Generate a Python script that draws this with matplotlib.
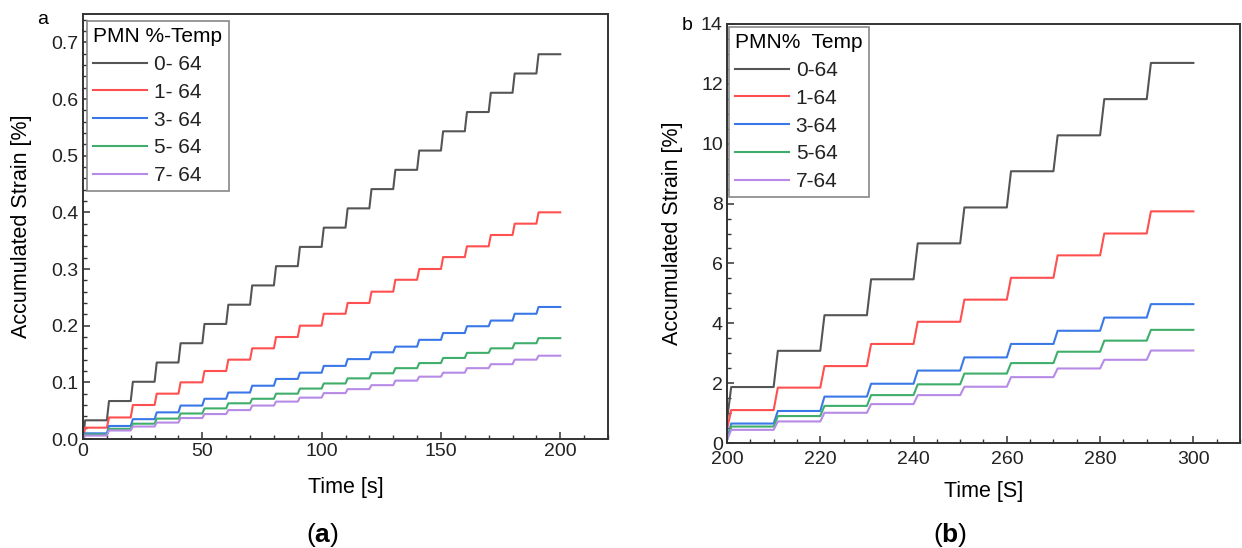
import numpy as np
import matplotlib.pyplot as plt

plt.rcParams['font.family'] = ['Liberation Sans', 'DejaVu Sans']
plt.rcParams['mathtext.fontset'] = 'custom'
plt.rcParams['mathtext.rm'] = 'Liberation Sans'
plt.rcParams['mathtext.bf'] = 'Liberation Sans:bold'

# panel a: step times [s] and the strain level reached after each step [%]
steps_a = [0, 10, 20, 30, 40, 50, 60, 70, 80, 90, 100, 110, 120, 130, 140, 150, 160, 170, 180, 190]
end_a = 200
levels_a = {
    '0- 64': [0.033, 0.067, 0.101, 0.135, 0.169, 0.203, 0.237, 0.271, 0.305, 0.339,
              0.373, 0.407, 0.441, 0.475, 0.509, 0.543, 0.577, 0.611, 0.645, 0.679],
    '1- 64': [0.020, 0.038, 0.060, 0.080, 0.100, 0.120, 0.140, 0.160, 0.180, 0.200,
              0.221, 0.240, 0.260, 0.281, 0.300, 0.321, 0.340, 0.360, 0.380, 0.400],
    '3- 64': [0.010, 0.023, 0.035, 0.047, 0.059, 0.071, 0.082, 0.094, 0.106, 0.117,
              0.129, 0.141, 0.153, 0.163, 0.175, 0.187, 0.199, 0.209, 0.221, 0.233],
    '5- 64': [0.008, 0.018, 0.027, 0.036, 0.045, 0.054, 0.063, 0.071, 0.080, 0.089,
              0.098, 0.107, 0.116, 0.125, 0.134, 0.143, 0.152, 0.160, 0.169, 0.178],
    '7- 64': [0.006, 0.015, 0.022, 0.029, 0.037, 0.044, 0.051, 0.059, 0.066, 0.073,
              0.081, 0.088, 0.095, 0.103, 0.110, 0.117, 0.125, 0.132, 0.140, 0.147],
}
start_a = [0.0, 0.0, 0.0, 0.0, 0.0]

# panel b
steps_b = [200, 210, 220, 230, 240, 250, 260, 270, 280, 290]
end_b = 300
levels_b = {
    '0-64': [1.87, 3.08, 4.27, 5.47, 6.67, 7.87, 9.08, 10.28, 11.49, 12.70],
    '1-64': [1.10, 1.85, 2.57, 3.31, 4.05, 4.79, 5.52, 6.27, 7.00, 7.74],
    '3-64': [0.65, 1.07, 1.55, 1.98, 2.42, 2.86, 3.31, 3.75, 4.19, 4.64],
    '5-64': [0.55, 0.90, 1.24, 1.60, 1.96, 2.32, 2.67, 3.05, 3.42, 3.78],
    '7-64': [0.44, 0.72, 1.01, 1.30, 1.60, 1.88, 2.20, 2.49, 2.78, 3.09],
}
start_b = [0.75, 0.45, 0.10, 0.10, 0.10]

colors = ['#555555', '#ff4f4f', '#3a78e8', '#3fae6a', '#b68ae6']


def step_curve(steps, end, levels, start, ramp):
    xs, ys = [], []
    prev = start
    for t, lv in zip(steps, levels):
        xs += [t, t + ramp]
        ys += [prev, lv]
        prev = lv
    xs.append(end)
    ys.append(prev)
    return np.array(xs), np.array(ys)


fig = plt.figure(figsize=(12.42, 5.48), dpi=100)
W, H = 1242, 548

ax1 = fig.add_axes([83 / W, 1 - 439 / H, (608 - 83) / W, (439 - 14) / H])
ax2 = fig.add_axes([727 / W, 1 - 443 / H, (1240 - 727) / W, (443 - 24) / H])


def style(ax):
    for sp in ax.spines.values():
        sp.set_color('#333333')
        sp.set_linewidth(1.4)
    ax.minorticks_on()
    ax.tick_params(which='both', direction='in', colors='#333333', labelsize=14,
                   labelcolor='#222222', top=False, right=False)
    ax.tick_params(which='major', length=5, width=1.1, pad=3)
    ax.tick_params(which='minor', length=3, width=1.0)


for i, (name, lv) in enumerate(levels_a.items()):
    x, y = step_curve(steps_a, end_a, lv, start_a[i], 0.9)
    ax1.plot(x, y, color=colors[i], lw=1.5, label=name)
ax1.set_xlim(0, 220)
ax1.set_ylim(0, 0.75)
ax1.set_xticks([0, 50, 100, 150, 200])
ax1.set_yticks([0.0, 0.1, 0.2, 0.3, 0.4, 0.5, 0.6, 0.7])
style(ax1)
ax1.set_xlabel('Time [s]', fontsize=15.5, labelpad=12)
ax1.set_ylabel('Accumulated Strain [%]', fontsize=15.5, labelpad=14)

for i, (name, lv) in enumerate(levels_b.items()):
    x, y = step_curve(steps_b, end_b, lv, start_b[i], 0.9)
    ax2.plot(x, y, color=colors[i], lw=1.5, label=name)
ax2.set_xlim(200, 310)
ax2.set_ylim(0, 14)
ax2.set_xticks([200, 220, 240, 260, 280, 300])
ax2.set_yticks([0, 2, 4, 6, 8, 10, 12, 14])
style(ax2)
ax2.tick_params(axis='x', which='major', pad=6)
ax2.set_xlabel('Time [S]', fontsize=15.5, labelpad=9)
ax2.set_ylabel('Accumulated Strain [%]', fontsize=15.5, labelpad=13)


def make_legend(ax, title, x0, y0):
    leg = ax.legend(title=title, loc='upper left', bbox_to_anchor=(x0 / W, 1 - y0 / H),
                    bbox_transform=fig.transFigure, borderaxespad=0, fancybox=False,
                    framealpha=1, edgecolor='#888888', fontsize=15, title_fontsize=15,
                    alignment='left', handlelength=2.6, handletextpad=0.3,
                    labelspacing=0.42, borderpad=0.3)
    leg.get_frame().set_linewidth(1.2)
    for t in leg.get_texts():
        t.set_color('#222222')
    return leg


make_legend(ax1, 'PMN %-Temp', 87, 21)
make_legend(ax2, 'PMN%  Temp', 729, 27)

fig.text(43 / W, 1 - 20 / H, 'a', fontsize=14, ha='center', va='center')
fig.text(687 / W, 1 - 25 / H, 'b', fontsize=14, ha='center', va='center')
fig.text(322 / W, 1 - 535 / H, r'($\mathbf{a}$)', fontsize=19, ha='center', va='center')
fig.text(950 / W, 1 - 535 / H, r'($\mathbf{b}$)', fontsize=19, ha='center', va='center')

fig.savefig('out.png', dpi=100)
